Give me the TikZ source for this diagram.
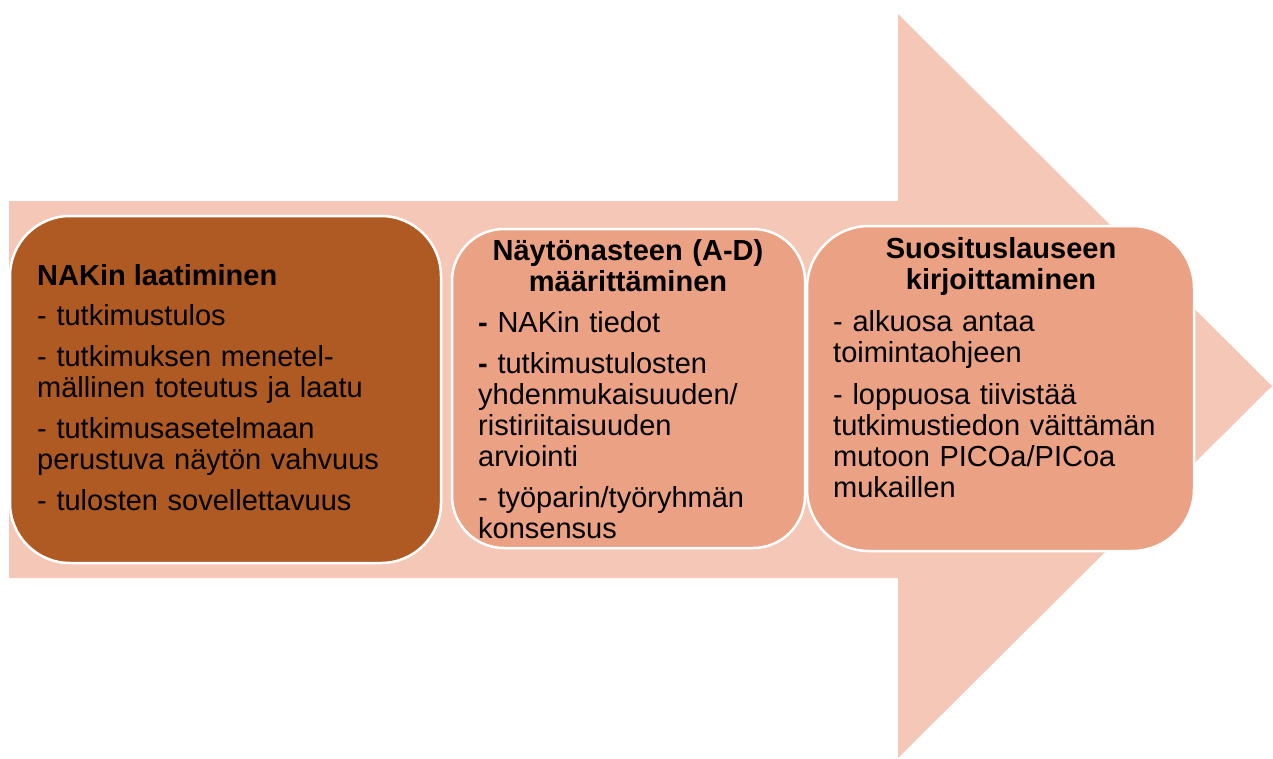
\documentclass[tikz,border=0pt]{standalone}
\usepackage{fontspec}
\setmainfont{Liberation Sans}
\usepackage{xcolor}
\usepackage{tikz}
\usetikzlibrary{positioning}

\definecolor{arrowpink}{RGB}{244,199,183}
\definecolor{nakbrown}{RGB}{174,90,34}
\definecolor{stagesalmon}{RGB}{235,161,131}

\tikzset{
  stage/.style={draw=white, line width=2.5pt, rounded corners=60pt, inner sep=0pt},
  stagetitle/.style={font=\fontsize{29}{31}\selectfont\bfseries, inner sep=0pt},
  stagetext/.style={font=\fontsize{29}{31}\selectfont, inner sep=0pt, align=left}
}

\begin{document}
\begin{tikzpicture}[x=1pt,y=1pt,yscale=-1,xscale=1]
\useasboundingbox (0,0) rectangle (1273,758);

%Shape: big arrow
\fill [arrowpink] (9,201) -- (898,201) -- (898,14) -- (1272,386) -- (898,758) -- (898,578) -- (9,578) -- cycle;

%Shape: stage boxes
\node [stage, fill=nakbrown, minimum width=431pt, minimum height=347pt] (nak) at (225.5,389.5) {};
\node [stage, fill=stagesalmon, minimum width=353pt, minimum height=319pt, rounded corners=52pt] (naste) at (628.5,388.5) {};
\node [stage, fill=stagesalmon, minimum width=387pt, minimum height=325pt, rounded corners=62pt] (suositus) at (1000.5,388.5) {};

% Text Node
\node [stagetitle, anchor=base west] (naktitle) at (37,285) {NAKin laatiminen};
% Text Node
\node [stagetext, anchor=base west, text width=400pt] (naktext) at (37,325) {- tutkimustulos\\[10pt]
- tutkimuksen menetel-\\mällinen toteutus ja laatu\\[10pt]
- tutkimusasetelmaan\\perustuva näytön vahvuus\\[10pt]
- tulosten sovellettavuus};
% Text Node
\node [stagetitle, anchor=base, align=center, text width=340pt] (astetitle) at (628,260) {Näytönasteen (A-D)\\määrittäminen};
% Text Node
\node [stagetext, anchor=base west, text width=320pt] (astetext) at (478,332) {\textbf{-} NAKin tiedot\\[10pt]
\textbf{-} tutkimustulosten\\yhdenmukaisuuden/\\ristiriitaisuuden\\arviointi\\[10pt]
- työparin/työryhmän\\konsensus};
% Text Node
\node [stagetitle, anchor=base, align=center, text width=370pt] (suostitle) at (1001,258) {Suosituslauseen\\kirjoittaminen};
% Text Node
\node [stagetext, anchor=base west, text width=350pt] (suostext) at (833,331) {- alkuosa antaa\\toimintaohjeen\\[11pt]
- loppuosa tiivistää\\tutkimustiedon väittämän\\mutoon PICOa/PICoa\\mukaillen};

\end{tikzpicture}
\end{document}
